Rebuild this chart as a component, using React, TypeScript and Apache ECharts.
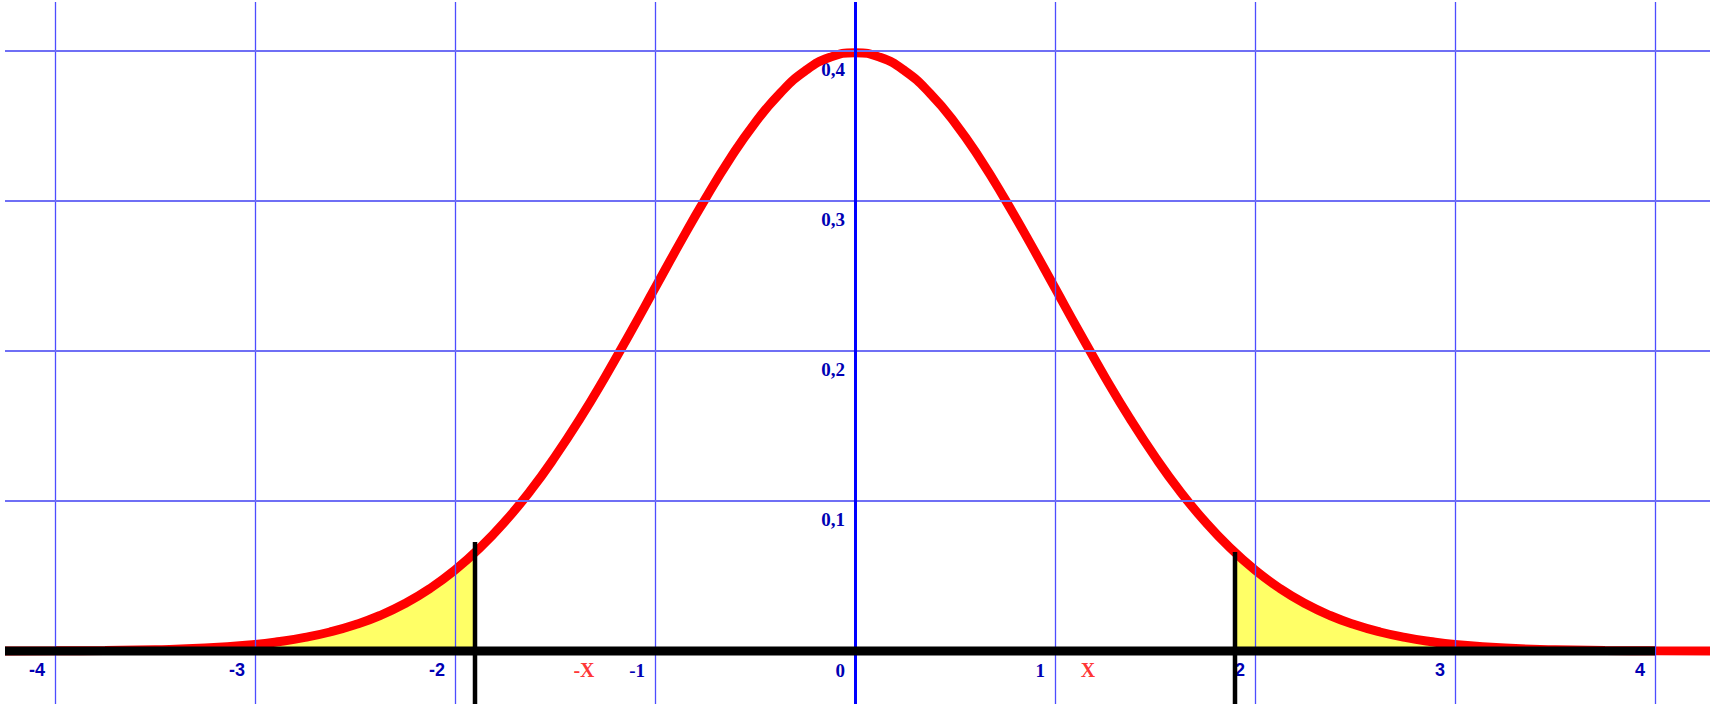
import React, { useEffect, useRef } from "react";
import * as echarts from "echarts";

// Curve points (x, density)
const curveX = [
  -4.25, -4, -3.75, -3.5, -3.25, -3, -2.875, -2.75, -2.625, -2.5, -2.375, -2.25, -2.125, -2, -1.875, -1.75,
  -1.625, -1.5, -1.375, -1.25, -1.125, -1, -0.875, -0.75, -0.625, -0.5, -0.375, -0.25, -0.125, 0, 0.125, 0.25,
  0.375, 0.5, 0.625, 0.75, 0.875, 1, 1.125, 1.25, 1.375, 1.5, 1.625, 1.75, 1.875, 2, 2.125, 2.25, 2.375, 2.5,
  2.625, 2.75, 2.875, 3, 3.25, 3.5, 3.75, 4, 4.275,
];
const curveY = [
  0.00005, 0.00013, 0.0004, 0.0009, 0.002, 0.0044, 0.0064, 0.0091, 0.0127, 0.0175, 0.0237, 0.0317, 0.0417,
  0.054, 0.0688, 0.0863, 0.1065, 0.1295, 0.1549, 0.1826, 0.2119, 0.242, 0.2721, 0.3011, 0.3282, 0.3521, 0.3718,
  0.3867, 0.3958, 0.3989, 0.3958, 0.3867, 0.3718, 0.3521, 0.3282, 0.3011, 0.2721, 0.242, 0.2119, 0.1826, 0.1549,
  0.1295, 0.1065, 0.0863, 0.0688, 0.054, 0.0417, 0.0317, 0.0237, 0.0175, 0.0127, 0.0091, 0.0064, 0.0044, 0.002,
  0.0009, 0.0004, 0.00013, 0.00004,
];

// Shaded tails
const leftTailX = [-4.25, -4, -3.75, -3.5, -3.25, -3, -2.875, -2.75, -2.625, -2.5, -2.375, -2.25, -2.125, -2, -1.9];
const leftTailY = [
  0.00005, 0.00013, 0.0004, 0.0009, 0.002, 0.0044, 0.0064, 0.0091, 0.0127, 0.0175, 0.0237, 0.0317, 0.0417, 0.054,
  0.0656,
];
const rightTailX = [1.9, 2, 2.125, 2.25, 2.375, 2.5, 2.625, 2.75, 2.875, 3, 3.25, 3.5, 3.75, 4, 4.275];
const rightTailY = [
  0.0656, 0.054, 0.0417, 0.0317, 0.0237, 0.0175, 0.0127, 0.0091, 0.0064, 0.0044, 0.002, 0.0009, 0.0004, 0.00013,
  0.00004,
];

// Cut markers
const leftCut = { x: -1.9, top: 0.0727 };
const rightCut = { x: 1.9, top: 0.066 };

// Axis ranges and ticks
const xMin = -4.25;
const xMax = 4.275;
const yMin = -0.0353;
const yMax = 0.4327;
const xTicks = [-4, -3, -2, -1, 0, 1, 2, 3, 4];
const yTicks = [0.1, 0.2, 0.3, 0.4];
const serifXTicks = [-1, 0, 1];
const axisLineEnd = 4;

// Symbolic labels
const symbolLabels = [
  { x: -1.355, text: "-X" },
  { x: 1.165, text: "X" },
];

const pairs = (xs: number[], ys: number[]) => xs.map((x, i) => [x, ys[i]]);

export default function App() {
  const ref = useRef<HTMLDivElement>(null);

  useEffect(() => {
    if (!ref.current) return;
    const chart = echarts.init(ref.current, null, { renderer: "svg" });
    const labelBlue = "#0000b4";
    const serif = "'Liberation Serif', 'DejaVu Serif', serif";
    const sans = "'Liberation Sans', Arial, sans-serif";

    const option: any = {
      animation: false,
      backgroundColor: "#ffffff",
      grid: { left: 5, right: 0, top: 2, bottom: 0, containLabel: false, outerBoundsMode: "none" },
      xAxis: {
        type: "value",
        min: xMin,
        max: xMax,
        position: "bottom",
        axisLine: { show: true, onZero: false, lineStyle: { opacity: 0 } },
        axisTick: { show: false },
        splitLine: { show: false },
        axisLabel: {
          customValues: xTicks,
          margin: 10,
          align: "right",
          padding: [0, 10, 0, 0],
          formatter: (v: number) => {
            const r = Math.round(v);
            return serifXTicks.indexOf(r) >= 0 ? `{r|${r}}` : `{s|${r}}`;
          },
          rich: {
            s: { fontFamily: sans, fontWeight: "bold", fontSize: 18, color: labelBlue },
            r: { fontFamily: serif, fontWeight: "bold", fontSize: 19, color: labelBlue },
          },
        },
      },
      yAxis: {
        type: "value",
        min: yMin,
        max: yMax,
        position: "left",
        axisLine: { show: true, onZero: false, lineStyle: { opacity: 0 } },
        axisTick: { show: false },
        splitLine: { show: false },
        axisLabel: {
          customValues: yTicks,
          margin: 10,
          align: "right",
          verticalAlign: "top",
          padding: [9, 0, 0, 0],
          fontFamily: serif,
          fontWeight: "bold",
          fontSize: 19,
          color: labelBlue,
          formatter: (v: number) => v.toFixed(1).replace(".", ","),
        },
      },
      series: [
        {
          name: "leftTail",
          type: "line",
          z: 1,
          smooth: true,
          symbol: "none",
          silent: true,
          lineStyle: { width: 0 },
          areaStyle: { color: "#ffff66", opacity: 1 },
          data: pairs(leftTailX, leftTailY),
        },
        {
          name: "rightTail",
          type: "line",
          z: 1,
          smooth: true,
          symbol: "none",
          silent: true,
          lineStyle: { width: 0 },
          areaStyle: { color: "#ffff66", opacity: 1 },
          data: pairs(rightTailX, rightTailY),
        },
        {
          name: "grid",
          type: "line",
          z: 2,
          symbol: "none",
          silent: true,
          lineStyle: { opacity: 0 },
          data: [[0, 0]],
          markLine: {
            silent: true,
            symbol: "none",
            label: { show: false },
            animation: false,
            data: [
              ...xTicks
                .filter((t) => t !== 0)
                .map((t) => ({ xAxis: t, lineStyle: { color: "#4d4dff", width: 1.3, type: "solid" } })),
              ...yTicks.map((t) => ({ yAxis: t, lineStyle: { color: "#6f6ff5", width: 2, type: "solid" } })),
            ],
          },
        },
        {
          name: "curve",
          type: "line",
          z: 3,
          smooth: true,
          symbol: "none",
          silent: true,
          lineStyle: { color: "#ff0000", width: 9 },
          data: pairs(curveX, curveY),
        },
        {
          name: "zeroAxis",
          type: "line",
          z: 4,
          symbol: "none",
          silent: true,
          lineStyle: { opacity: 0 },
          data: [[0, 0]],
          markLine: {
            silent: true,
            symbol: "none",
            label: { show: false },
            animation: false,
            data: [{ xAxis: 0, lineStyle: { color: "#0000ff", width: 3, type: "solid" } }],
          },
        },
        {
          name: "xAxisLine",
          type: "line",
          z: 5,
          symbol: "none",
          silent: true,
          lineStyle: { color: "#000000", width: 9, cap: "butt" },
          data: [
            [xMin, 0],
            [axisLineEnd, 0],
          ],
        },
        {
          name: "leftCut",
          type: "line",
          z: 6,
          symbol: "none",
          silent: true,
          lineStyle: { color: "#000000", width: 4.5 },
          data: [
            [leftCut.x, leftCut.top],
            [leftCut.x, yMin],
          ],
        },
        {
          name: "rightCut",
          type: "line",
          z: 6,
          symbol: "none",
          silent: true,
          lineStyle: { color: "#000000", width: 4.5 },
          data: [
            [rightCut.x, rightCut.top],
            [rightCut.x, yMin],
          ],
        },
        {
          name: "symbols",
          type: "scatter",
          z: 7,
          symbolSize: 0,
          silent: true,
          data: symbolLabels.map((s) => ({ value: [s.x, 0], name: s.text })),
          label: {
            show: true,
            position: "bottom",
            distance: 9,
            formatter: (p: any) => p.name,
            fontFamily: serif,
            fontWeight: "bold",
            fontSize: 20,
            color: "#ff0000",
          },
        },
      ],
    };
    chart.setOption(option);

    // Move both axes onto the origin, using the library's own scales.
    const origin = chart.convertToPixel({ gridIndex: 0 }, [0, 0]) as number[];
    const corner = chart.convertToPixel({ gridIndex: 0 }, [xMin, yMin]) as number[];
    if (origin && corner) {
      chart.setOption({
        xAxis: { offset: -(corner[1] - origin[1]) },
        yAxis: { offset: -(origin[0] - corner[0]) },
      });
    }
    return () => chart.dispose();
  }, []);

  return (
    <div
      ref={ref}
      style={{ position: "fixed", left: 0, top: 0, width: 1710, height: 704, background: "#fff" }}
    />
  );
}
